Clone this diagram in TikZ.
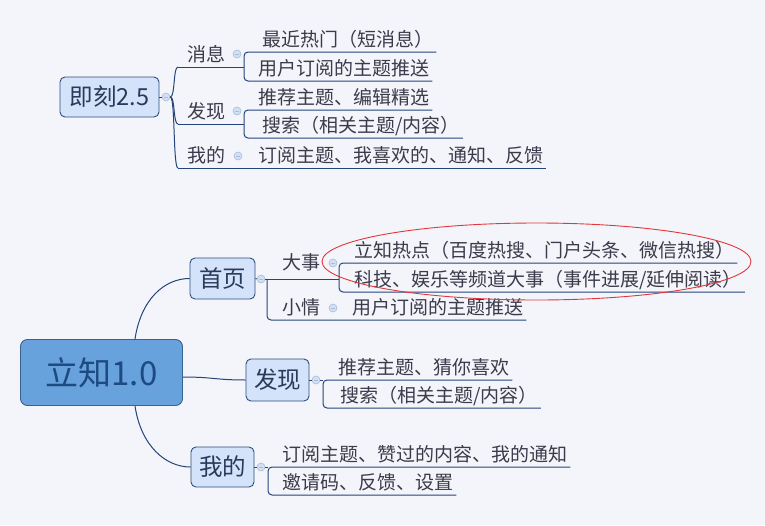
\documentclass[tikz,border=0pt]{standalone}
\usepackage{fontspec}
\newfontfamily\cjk{Noto Sans CJK SC}
\usepackage{tikz}

\definecolor{bgc}{HTML}{F3F5FA}
\definecolor{linec}{HTML}{24457A}
\definecolor{boxfill}{HTML}{D4E2FA}
\definecolor{boxline}{HTML}{2D4F80}
\definecolor{boxtxt}{HTML}{2A3A5A}
\definecolor{mainfill}{HTML}{68A2DD}
\definecolor{mainline}{HTML}{3A6290}
\definecolor{maintxt}{HTML}{1D4A80}
\definecolor{leaftxt}{HTML}{3B3B4B}
\definecolor{dotfill}{HTML}{D3DFF3}
\definecolor{dotline}{HTML}{A9BCD9}
\definecolor{redc}{HTML}{E0383C}

\tikzset{
  topic/.style={draw=boxline, fill=boxfill, rounded corners=5pt, line width=0.9pt, text=boxtxt, inner sep=0pt, font=\cjk\fontsize{23.5}{23.5}\selectfont},
  leaf/.style={anchor=south west, inner xsep=3pt, inner ysep=0pt, text height=15pt, text depth=5pt, text=leaftxt, font=\cjk\fontsize{19}{19}\selectfont},
  fold/.style={circle, minimum size=8pt, inner sep=0pt, fill=dotfill, draw=dotline, line width=0.6pt,
    path picture={\draw[dotline, line width=0.8pt] ([xshift=-2pt]path picture bounding box.center) -- ([xshift=2pt]path picture bounding box.center);}},
  branch/.style={draw=linec, line width=1pt},
  ring/.style={draw=redc, line width=0.9pt}
}

\begin{document}
\begin{tikzpicture}[x=1pt, y=-1pt]

   \fill[bgc] (0,0) rectangle (765,525);
   \useasboundingbox (0,0) rectangle (765,525);

   % jike 2.5
   \node[topic, minimum width=99pt, minimum height=40pt] (jike) at (109.5,97) {即刻2.5};
   \node[fold] (c0) at (166,97) {};
   \draw[branch] (jike.east) -- (c0.west);

   \coordinate (m1) at (178,67);
   \coordinate (m2) at (178,124);
   \coordinate (m3) at (178,168);
   \coordinate (b1) at (244,67);
   \coordinate (b2) at (244,124);

   \node[leaf] (xiaoxi) at (184,67) {消息};
   \node[leaf] (faxian) at (184,124) {发现};
   \node[leaf] (wode) at (184,168) {我的};
   \node[fold] (d1) at (237,54) {};
   \node[fold] (d2) at (237,111) {};
   \node[fold] (d3) at (238,156) {};

   \node[leaf] (l11) at (259,52) {最近热门（短消息）};
   \node[leaf] (l12) at (255,81) {用户订阅的主题推送};
   \node[leaf] (l21) at (255,110) {推荐主题、编辑精选};
   \node[leaf] (l22) at (259,138) {搜索（相关主题/内容）};
   \node[leaf] (l31) at (255,168) {订阅主题、我喜欢的、通知、反馈};

   \foreach \m in {1,2,3}
      \draw[branch] (c0.east) .. controls +(5,0) and +(-5,0) .. (m\m);
   \draw[branch] (m1) -- (b1);
   \draw[branch] (m2) -- (b2);
   \draw[branch] (m3) -- (l31.south east);
   \draw[branch, rounded corners=4pt] (l11.south east) -| (b1) |- (l12.south east);
   \draw[branch, rounded corners=4pt] (l21.south east) -| (b2) |- (l22.south east);

   % lizhi 1.0
   \node[topic, fill=mainfill, draw=mainline, text=maintxt, rounded corners=7pt, minimum width=162pt, minimum height=66pt, font=\cjk\fontsize{33}{33}\selectfont] (lizhi) at (101.5,372.5) {立知1.0};
   \node[topic, minimum width=65pt, minimum height=41pt] (shouye) at (222.5,278.5) {首页};
   \node[topic, minimum width=63pt, minimum height=42pt] (faxian2) at (277.5,380) {发现};
   \node[topic, minimum width=63pt, minimum height=40pt] (wode2) at (222.5,467) {我的};

   \draw[branch] ([xshift=33.5pt]lizhi.north) .. controls +(6,-40) and +(-25,0) .. (shouye.west);
   \draw[branch] ([xshift=33.5pt]lizhi.south) .. controls +(6,40) and +(-25,0) .. (wode2.west);
   \draw[branch] ([yshift=-4.5pt]lizhi.east) .. controls +(30,0) and +(-30,0) .. (faxian2.west);

   \node[fold] (e0) at (261,279) {};
   \node[fold] (e1) at (316,380) {};
   \node[fold] (e2) at (261,467) {};
   \draw[branch] (shouye.east) -- (e0.west);
   \draw[branch] (faxian2.east) -- (e1.west);
   \draw[branch] (wode2.east) -- (e2.west);

   \coordinate (q0) at (267,279);
   \coordinate (b4) at (339,279);
   \coordinate (b5) at (323,380);
   \coordinate (b6) at (268,467);

   \node[leaf] (dashi) at (279,275) {大事};
   \node[leaf] (xiaoqing) at (279,320) {小情};
   \node[fold] (f1) at (333,263) {};
   \node[fold] (f2) at (333,308) {};

   \node[leaf] (l41) at (351,263) {立知热点（百度热搜、门户头条、微信热搜）};
   \node[leaf] (l42) at (351,292) {科技、娱乐等频道大事（事件进展/延伸阅读）};
   \node[leaf] (l51) at (349,320) {用户订阅的主题推送};
   \node[leaf] (l61) at (335,380) {推荐主题、猜你喜欢};
   \node[leaf] (l62) at (337,408) {搜索（相关主题/内容）};
   \node[leaf] (l71) at (279,467) {订阅主题、赞过的内容、我的通知};
   \node[leaf] (l72) at (279,495) {邀请码、反馈、设置};

   \draw[branch] (e0.east) -- (b4);
   \draw[branch, rounded corners=4pt] (q0) |- (l51.south east);
   \draw[branch, rounded corners=4pt] (l41.south east) -| (b4) |- (l42.south east);
   \draw[branch] (e1.east) -- (b5);
   \draw[branch, rounded corners=4pt] (l61.south east) -- (b5) |- (l62.south east);
   \draw[branch] (e2.east) -- (b6);
   \draw[branch, rounded corners=4pt] (l71.south east) -- (b6) |- (l72.south east);

   \draw[ring] (536.5,261.5) ellipse [x radius=214.5, y radius=38.5];

\end{tikzpicture}
\end{document}
